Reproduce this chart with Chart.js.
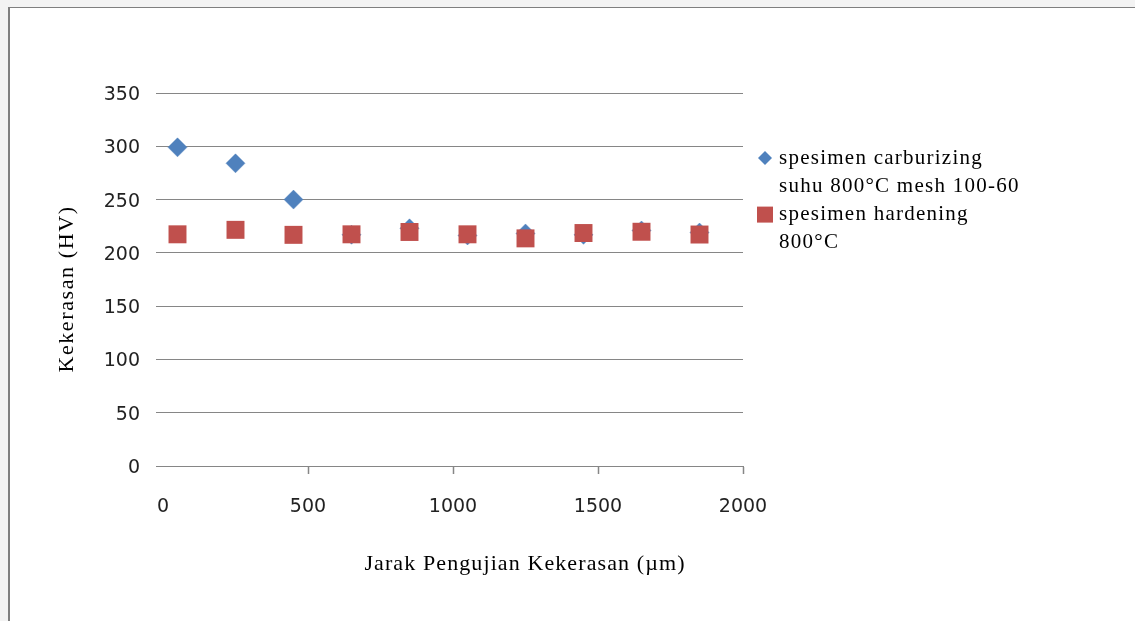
<!DOCTYPE html>
<html>
<head>
<meta charset="utf-8">
<script src="https://cdn.jsdelivr.net/npm/chart.js@4.4.1/dist/chart.umd.min.js"></script>
<style>
  html, body { margin: 0; padding: 0; background: #f3f3f3; }
  #wrap { position: absolute; left: 0; top: 0; width: 1135px; height: 621px; }
</style>
</head>
<body>
<div id="wrap"><canvas id="chart" width="1135" height="621"></canvas></div>
<script>
// Measuring distance from the surface (µm)
const distances = [50, 250, 450, 650, 850, 1050, 1250, 1450, 1650, 1850];
// Hardness (HV) of the carburized specimen
const carburizingHV = [299, 284, 250, 217, 223, 216.3, 218.2, 216.9, 221, 219.1];
// Hardness (HV) of the hardened specimen
const hardeningHV = [217.4, 221.6, 216.9, 217.4, 219.6, 217.4, 213.6, 218.6, 219.8, 217.2];

const carburizingLabel = ['spesimen carburizing', 'suhu 800°C mesh 100-60'];
const hardeningLabel = ['spesimen hardening', '800°C'];

const yTicks = [0, 50, 100, 150, 200, 250, 300, 350];
const xTicks = [0, 500, 1000, 1500, 2000];

const xTitle = 'Jarak Pengujian Kekerasan (µm)';
const yTitle = 'Kekerasan (HV)';

const BLUE = '#4F81BD';
const RED = '#C0504D';
const GRID = '#868686';

const toPoints = (xs, ys) => xs.map((x, i) => ({ x: x, y: ys[i] }));

// Frame, axis titles and the two-line legend entries
const decorations = {
  id: 'decorations',
  beforeDraw(chart) {
    const ctx = chart.ctx;
    ctx.save();
    ctx.fillStyle = '#f3f3f3';
    ctx.fillRect(0, 0, chart.width, chart.height);
    ctx.fillStyle = '#ffffff';
    ctx.fillRect(9, 7, chart.width - 9, chart.height - 7);
    ctx.fillStyle = '#7f7f7f';
    ctx.fillRect(8, 7, chart.width - 8, 1);
    ctx.fillRect(8, 7, 2, chart.height - 7);
    ctx.restore();
  },
  afterDraw(chart) {
    const ctx = chart.ctx;
    const area = chart.chartArea;
    ctx.save();
    ctx.fillStyle = '#000';
    ctx.textBaseline = 'middle';
    ctx.textAlign = 'center';
    ctx.font = '22px "Liberation Serif", "Times New Roman", serif';
    if ('letterSpacing' in ctx) ctx.letterSpacing = '1.1px';
    ctx.fillText(xTitle, 525, 564);

    ctx.save();
    ctx.translate(67, 289);
    ctx.rotate(-Math.PI / 2);
    if ('letterSpacing' in ctx) ctx.letterSpacing = '1.6px';
    ctx.fillText(yTitle, 0, 0);
    ctx.restore();

    // legend
    ctx.font = '21px "Liberation Serif", "Times New Roman", serif';
    if ('letterSpacing' in ctx) ctx.letterSpacing = '1.25px';
    ctx.textAlign = 'left';
    const entries = [
      { lines: carburizingLabel, ds: chart.data.datasets[0] },
      { lines: hardeningLabel, ds: chart.data.datasets[1] }
    ];
    const markerX = area.right + 22;
    const textX = area.right + 36;
    let y = 158;
    const lineGap = 28.3;
    entries.forEach(e => {
      const style = e.ds.pointStyle;
      ctx.fillStyle = e.ds.backgroundColor;
      ctx.beginPath();
      if (style === 'rectRot') {
        const r = 7;
        ctx.moveTo(markerX - r, y);
        ctx.lineTo(markerX, y - r);
        ctx.lineTo(markerX + r, y);
        ctx.lineTo(markerX, y + r);
        ctx.closePath();
      } else {
        ctx.rect(markerX - 8, y - 8, 16, 16);
      }
      ctx.fill();
      ctx.fillStyle = '#000';
      e.lines.forEach((line, i) => ctx.fillText(line, textX, y + i * lineGap));
      y += e.lines.length * lineGap;
    });
    ctx.restore();
  }
};

new Chart(document.getElementById('chart'), {
  type: 'scatter',
  data: {
    datasets: [
      {
        label: carburizingLabel.join(' '),
        data: toPoints(distances, carburizingHV),
        pointStyle: 'rectRot',
        pointRadius: 9.5,
        pointHoverRadius: 9.5,
        backgroundColor: BLUE,
        borderColor: 'rgba(79,129,189,0.45)',
        borderWidth: 1,
        order: 2
      },
      {
        label: hardeningLabel.join(' '),
        data: toPoints(distances, hardeningHV),
        pointStyle: 'rect',
        pointRadius: 12.7,
        pointHoverRadius: 12.7,
        backgroundColor: RED,
        borderColor: RED,
        borderWidth: 0,
        order: 1
      }
    ]
  },
  options: {
    responsive: false,
    animation: false,
    devicePixelRatio: 1,
    layout: { padding: { left: 0, top: 93, right: 392, bottom: 0 } },
    plugins: {
      legend: { display: false },
      tooltip: { enabled: false }
    },
    scales: {
      x: {
        type: 'linear',
        min: 0,
        max: 2000,
        afterBuildTicks: s => { s.ticks = xTicks.map(v => ({ value: v })); },
        afterFit: s => { s.height = 155; },
        border: { display: true, color: GRID, width: 1 },
        grid: {
          drawOnChartArea: false,
          drawTicks: true,
          tickLength: 8,
          tickWidth: 1.5,
          color: c => (c.tick && c.tick.value === 0 ? 'rgba(0,0,0,0)' : GRID)
        },
        ticks: {
          padding: 22,
          color: '#222',
          font: { family: '"DejaVu Sans", sans-serif', size: 19 },
          maxRotation: 0,
          callback: v => String(v)
        }
      },
      y: {
        type: 'linear',
        min: 0,
        max: 350,
        afterBuildTicks: s => { s.ticks = yTicks.map(v => ({ value: v })); },
        afterFit: s => { s.width = 163; },
        border: { display: false },
        grid: {
          drawOnChartArea: true,
          drawTicks: true,
          tickLength: 7,
          color: GRID,
          lineWidth: 1
        },
        ticks: {
          padding: 16,
          labelOffset: 2,
          color: '#222',
          font: { family: '"DejaVu Sans", sans-serif', size: 19 },
          callback: v => String(v)
        }
      }
    }
  },
  plugins: [decorations]
});
</script>
</body>
</html>
